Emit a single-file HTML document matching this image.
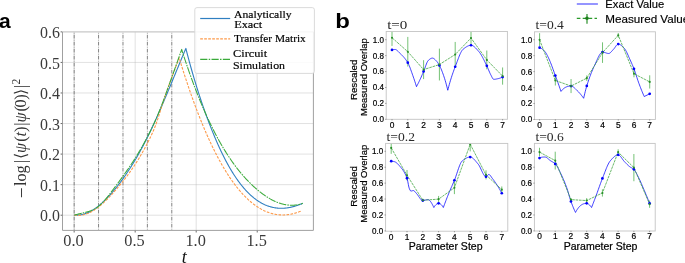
<!DOCTYPE html>
<html><head><meta charset="utf-8"><style>
html,body{margin:0;padding:0;background:#fff;}
body{width:685px;height:263px;overflow:hidden;}
svg{display:block;will-change:transform;}
</style></head><body>
<svg width="685" height="263" viewBox="0 0 685 263">
<rect width="685" height="263" fill="#fff"/>
<defs><clipPath id="ca"><rect x="62.5" y="30.8" width="250.9" height="199.6"/></clipPath></defs>
<path d="M62.5,215.21H313.4 M62.5,184.65H313.4 M62.5,154.10H313.4 M62.5,123.54H313.4 M62.5,92.98H313.4 M62.5,62.43H313.4" stroke="#b0b0b0" stroke-opacity="0.38" stroke-width="1" fill="none"/>
<path d="M74.15,31.8V230.4 M135.18,31.8V230.4 M196.20,31.8V230.4 M257.23,31.8V230.4" stroke="#b0b0b0" stroke-opacity="0.38" stroke-width="1" fill="none"/>
<path d="M74.15,31.8V230.4 M98.56,31.8V230.4 M122.97,31.8V230.4 M147.38,31.8V230.4 M171.79,31.8V230.4" stroke="#6e6e6e" stroke-width="0.85" stroke-dasharray="3.7,1.25,0.8,1.25" stroke-dashoffset="4.0" fill="none"/>
<g clip-path="url(#ca)" fill="none" stroke-linejoin="round">
<path d="M74.40,215.20 L74.90,215.03 L75.40,215.07 L75.90,215.10 L76.40,215.12 L76.90,215.12 L77.40,215.11 L77.90,215.10 L78.40,215.07 L78.90,215.03 L79.40,214.99 L79.90,214.93 L80.40,214.86 L80.90,214.78 L81.40,214.69 L81.90,214.59 L82.40,214.48 L82.90,214.36 L83.40,214.23 L83.90,214.09 L84.40,213.94 L84.90,213.78 L85.40,213.61 L85.90,213.43 L86.40,213.25 L86.90,213.05 L87.40,212.84 L87.90,212.63 L88.40,212.40 L88.90,212.17 L89.40,211.92 L89.90,211.67 L90.40,211.41 L90.90,211.14 L91.40,210.86 L91.90,210.57 L92.40,210.28 L92.90,209.97 L93.40,209.66 L93.90,209.34 L94.40,209.01 L94.90,208.67 L95.40,208.33 L95.90,207.97 L96.40,207.61 L96.90,207.24 L97.40,206.86 L97.90,206.48 L98.40,206.08 L98.90,205.68 L99.40,205.27 L99.90,204.86 L100.40,204.43 L100.90,204.00 L101.40,203.56 L101.90,203.12 L102.40,202.67 L102.90,202.21 L103.40,201.74 L103.90,201.27 L104.40,200.79 L104.90,200.30 L105.40,199.81 L105.90,199.30 L106.40,198.80 L106.90,198.28 L107.40,197.77 L107.90,197.24 L108.40,196.71 L108.90,196.17 L109.40,195.62 L109.90,195.07 L110.40,194.52 L110.90,193.96 L111.40,193.39 L111.90,192.81 L112.40,192.23 L112.90,191.65 L113.40,191.06 L113.90,190.46 L114.40,189.86 L114.90,189.26 L115.40,188.64 L115.90,188.03 L116.40,187.41 L116.90,186.78 L117.40,186.15 L117.90,185.51 L118.40,184.86 L118.90,184.21 L119.40,183.56 L119.90,182.90 L120.40,182.23 L120.90,181.56 L121.40,180.88 L121.90,180.20 L122.40,179.51 L122.90,178.82 L123.40,178.12 L123.90,177.41 L124.40,176.70 L124.90,175.99 L125.40,175.26 L125.90,174.54 L126.40,173.80 L126.90,173.06 L127.40,172.31 L127.90,171.56 L128.40,170.80 L128.90,170.04 L129.40,169.27 L129.90,168.50 L130.40,167.71 L130.90,166.93 L131.40,166.13 L131.90,165.33 L132.40,164.52 L132.90,163.71 L133.40,162.89 L133.90,162.07 L134.40,161.24 L134.90,160.40 L135.40,159.56 L135.90,158.71 L136.40,157.85 L136.90,156.99 L137.40,156.12 L137.90,155.24 L138.40,154.36 L138.90,153.47 L139.40,152.58 L139.90,151.68 L140.40,150.77 L140.90,149.85 L141.40,148.93 L141.90,148.00 L142.40,147.07 L142.90,146.13 L143.40,145.18 L143.90,144.23 L144.40,143.27 L144.90,142.30 L145.40,141.32 L145.90,140.34 L146.40,139.35 L146.90,138.36 L147.40,137.35 L147.90,136.35 L148.40,135.33 L148.90,134.31 L149.40,133.28 L149.90,132.24 L150.40,131.20 L150.90,130.15 L151.40,129.09 L151.90,128.03 L152.40,126.96 L152.90,125.89 L153.40,124.81 L153.90,123.72 L154.40,122.63 L154.90,121.53 L155.40,120.43 L155.90,119.32 L156.40,118.21 L156.90,117.09 L157.40,115.97 L157.90,114.85 L158.40,113.72 L158.90,112.58 L159.40,111.44 L159.90,110.30 L160.40,109.15 L160.90,108.00 L161.40,106.84 L161.90,105.68 L162.40,104.52 L162.90,103.35 L163.40,102.18 L163.90,101.01 L164.40,99.84 L164.90,98.66 L165.40,97.48 L165.90,96.29 L166.40,95.11 L166.90,93.92 L167.40,92.73 L167.90,91.54 L168.40,90.34 L168.90,89.15 L169.40,87.95 L169.90,86.75 L170.40,85.55 L170.90,84.35 L171.40,83.14 L171.90,81.94 L172.40,80.73 L172.90,79.53 L173.40,78.32 L173.90,77.11 L174.40,75.90 L174.90,74.69 L175.40,73.49 L175.90,72.28 L176.40,71.07 L176.90,69.86 L177.40,68.65 L177.90,67.45 L178.40,66.24 L178.90,65.03 L179.40,63.83 L179.90,62.63 L180.40,61.42 L180.90,60.22 L181.40,59.02 L181.90,57.82 L182.40,56.63 L182.90,55.43 L183.40,54.24 L183.90,53.05 L184.40,51.86 L184.90,50.67 L185.40,49.49 L185.90,48.40 L186.30,50.19 L186.80,52.12 L187.30,54.04 L187.80,55.94 L188.30,57.82 L188.80,59.68 L189.30,61.53 L189.80,63.36 L190.30,65.18 L190.80,66.98 L191.30,68.76 L191.80,70.52 L192.30,72.27 L192.80,74.01 L193.30,75.72 L193.80,77.43 L194.30,79.11 L194.80,80.79 L195.30,82.44 L195.80,84.09 L196.30,85.71 L196.80,87.33 L197.30,88.93 L197.80,90.51 L198.30,92.09 L198.80,93.64 L199.30,95.19 L199.80,96.72 L200.30,98.24 L200.80,99.75 L201.30,101.24 L201.80,102.72 L202.30,104.18 L202.80,105.64 L203.30,107.08 L203.80,108.51 L204.30,109.93 L204.80,111.34 L205.30,112.73 L205.80,114.12 L206.30,115.49 L206.80,116.85 L207.30,118.20 L207.80,119.54 L208.30,120.87 L208.80,122.19 L209.30,123.49 L209.80,124.79 L210.30,126.08 L210.80,127.35 L211.30,128.62 L211.80,129.88 L212.30,131.12 L212.80,132.36 L213.30,133.58 L213.80,134.79 L214.30,136.00 L214.80,137.19 L215.30,138.37 L215.80,139.54 L216.30,140.70 L216.80,141.85 L217.30,142.99 L217.80,144.12 L218.30,145.24 L218.80,146.35 L219.30,147.44 L219.80,148.53 L220.30,149.60 L220.80,150.66 L221.30,151.72 L221.80,152.76 L222.30,153.79 L222.80,154.80 L223.30,155.81 L223.80,156.81 L224.30,157.79 L224.80,158.77 L225.30,159.73 L225.80,160.68 L226.30,161.62 L226.80,162.55 L227.30,163.47 L227.80,164.38 L228.30,165.28 L228.80,166.17 L229.30,167.05 L229.80,167.91 L230.30,168.77 L230.80,169.61 L231.30,170.45 L231.80,171.27 L232.30,172.09 L232.80,172.89 L233.30,173.68 L233.80,174.47 L234.30,175.24 L234.80,176.00 L235.30,176.76 L235.80,177.50 L236.30,178.23 L236.80,178.95 L237.30,179.67 L237.80,180.37 L238.30,181.06 L238.80,181.75 L239.30,182.42 L239.80,183.08 L240.30,183.74 L240.80,184.38 L241.30,185.01 L241.80,185.64 L242.30,186.25 L242.80,186.86 L243.30,187.46 L243.80,188.04 L244.30,188.62 L244.80,189.19 L245.30,189.75 L245.80,190.30 L246.30,190.84 L246.80,191.37 L247.30,191.89 L247.80,192.40 L248.30,192.90 L248.80,193.40 L249.30,193.88 L249.80,194.36 L250.30,194.83 L250.80,195.29 L251.30,195.74 L251.80,196.18 L252.30,196.61 L252.80,197.03 L253.30,197.45 L253.80,197.86 L254.30,198.25 L254.80,198.64 L255.30,199.02 L255.80,199.40 L256.30,199.76 L256.80,200.12 L257.30,200.46 L257.80,200.80 L258.30,201.13 L258.80,201.46 L259.30,201.77 L259.80,202.08 L260.30,202.38 L260.80,202.67 L261.30,202.95 L261.80,203.23 L262.30,203.49 L262.80,203.75 L263.30,204.01 L263.80,204.25 L264.30,204.49 L264.80,204.71 L265.30,204.94 L265.80,205.15 L266.30,205.36 L266.80,205.55 L267.30,205.75 L267.80,205.93 L268.30,206.11 L268.80,206.28 L269.30,206.44 L269.80,206.59 L270.30,206.74 L270.80,206.88 L271.30,207.02 L271.80,207.14 L272.30,207.26 L272.80,207.38 L273.30,207.48 L273.80,207.58 L274.30,207.67 L274.80,207.76 L275.30,207.84 L275.80,207.91 L276.30,207.98 L276.80,208.04 L277.30,208.09 L277.80,208.14 L278.30,208.18 L278.80,208.21 L279.30,208.24 L279.80,208.26 L280.30,208.28 L280.80,208.29 L281.30,208.29 L281.80,208.28 L282.30,208.28 L282.80,208.26 L283.30,208.24 L283.80,208.21 L284.30,208.18 L284.80,208.14 L285.30,208.10 L285.80,208.04 L286.30,207.99 L286.80,207.93 L287.30,207.86 L287.80,207.79 L288.30,207.71 L288.80,207.62 L289.30,207.54 L289.80,207.44 L290.30,207.34 L290.80,207.24 L291.30,207.13 L291.80,207.01 L292.30,206.89 L292.80,206.76 L293.30,206.63 L293.80,206.50 L294.30,206.36 L294.80,206.21 L295.30,206.06 L295.80,205.90 L296.30,205.74 L296.80,205.58 L297.30,205.41 L297.80,205.23 L298.30,205.06 L298.80,204.87 L299.30,204.68 L299.80,204.49 L300.30,204.29 L300.80,204.09 L301.30,203.89 L301.80,203.68 L302.30,203.46 L302.60,203.20" stroke="#2f7fc1" stroke-width="1.1"/>
<path d="M74.40,215.20 L74.90,215.03 L75.40,215.12 L75.90,215.19 L76.40,215.25 L76.90,215.30 L77.40,215.34 L77.90,215.36 L78.40,215.37 L78.90,215.37 L79.40,215.36 L79.90,215.34 L80.40,215.30 L80.90,215.25 L81.40,215.19 L81.90,215.12 L82.40,215.04 L82.90,214.94 L83.40,214.84 L83.90,214.72 L84.40,214.59 L84.90,214.45 L85.40,214.30 L85.90,214.14 L86.40,213.97 L86.90,213.79 L87.40,213.60 L87.90,213.40 L88.40,213.19 L88.90,212.97 L89.40,212.74 L89.90,212.50 L90.40,212.25 L90.90,211.99 L91.40,211.72 L91.90,211.45 L92.40,211.16 L92.90,210.86 L93.40,210.56 L93.90,210.25 L94.40,209.93 L94.90,209.60 L95.40,209.26 L95.90,208.91 L96.40,208.56 L96.90,208.20 L97.40,207.83 L97.90,207.45 L98.40,207.07 L98.90,206.68 L99.40,206.28 L99.90,205.87 L100.40,205.46 L100.90,205.03 L101.40,204.61 L101.90,204.17 L102.40,203.73 L102.90,203.28 L103.40,202.83 L103.90,202.37 L104.40,201.91 L104.90,201.43 L105.40,200.96 L105.90,200.47 L106.40,199.98 L106.90,199.49 L107.40,198.99 L107.90,198.48 L108.40,197.97 L108.90,197.46 L109.40,196.94 L109.90,196.41 L110.40,195.88 L110.90,195.35 L111.40,194.81 L111.90,194.27 L112.40,193.72 L112.90,193.17 L113.40,192.61 L113.90,192.05 L114.40,191.49 L114.90,190.92 L115.40,190.35 L115.90,189.78 L116.40,189.21 L116.90,188.63 L117.40,188.04 L117.90,187.46 L118.40,186.87 L118.90,186.27 L119.40,185.68 L119.90,185.07 L120.40,184.47 L120.90,183.86 L121.40,183.25 L121.90,182.63 L122.40,182.01 L122.90,181.38 L123.40,180.75 L123.90,180.12 L124.40,179.48 L124.90,178.83 L125.40,178.18 L125.90,177.53 L126.40,176.87 L126.90,176.20 L127.40,175.53 L127.90,174.86 L128.40,174.18 L128.90,173.49 L129.40,172.80 L129.90,172.10 L130.40,171.39 L130.90,170.68 L131.40,169.97 L131.90,169.24 L132.40,168.52 L132.90,167.78 L133.40,167.04 L133.90,166.29 L134.40,165.54 L134.90,164.78 L135.40,164.01 L135.90,163.23 L136.40,162.45 L136.90,161.66 L137.40,160.86 L137.90,160.06 L138.40,159.25 L138.90,158.43 L139.40,157.60 L139.90,156.77 L140.40,155.93 L140.90,155.08 L141.40,154.22 L141.90,153.35 L142.40,152.48 L142.90,151.60 L143.40,150.71 L143.90,149.81 L144.40,148.90 L144.90,147.98 L145.40,147.05 L145.90,146.12 L146.40,145.18 L146.90,144.22 L147.40,143.26 L147.90,142.29 L148.40,141.31 L148.90,140.32 L149.40,139.32 L149.90,138.31 L150.40,137.29 L150.90,136.24 L151.40,135.18 L151.90,134.10 L152.40,133.00 L152.90,131.86 L153.40,130.70 L153.90,129.51 L154.40,128.29 L154.90,127.03 L155.40,125.73 L155.90,124.39 L156.40,123.00 L156.90,121.57 L157.40,120.10 L157.90,118.60 L158.40,117.06 L158.90,115.50 L159.40,113.92 L159.90,112.33 L160.40,110.73 L160.90,109.13 L161.40,107.54 L161.90,105.95 L162.40,104.39 L162.90,102.83 L163.40,101.30 L163.90,99.78 L164.40,98.28 L164.90,96.79 L165.40,95.31 L165.90,93.85 L166.40,92.40 L166.90,90.96 L167.40,89.54 L167.90,88.12 L168.40,86.72 L168.90,85.33 L169.40,83.94 L169.90,82.57 L170.40,81.20 L170.90,79.84 L171.40,78.48 L171.90,77.14 L172.40,75.80 L172.90,74.46 L173.40,73.13 L173.90,71.80 L174.40,70.48 L174.90,69.16 L175.40,67.84 L175.90,66.52 L176.40,65.21 L176.90,63.89 L177.40,62.58 L177.90,61.26 L178.40,59.94 L178.90,58.62 L179.20,57.80 L179.70,59.67 L180.20,61.31 L180.70,62.93 L181.20,64.55 L181.70,66.15 L182.20,67.75 L182.70,69.34 L183.20,70.91 L183.70,72.48 L184.20,74.04 L184.70,75.58 L185.20,77.12 L185.70,78.65 L186.20,80.17 L186.70,81.67 L187.20,83.17 L187.70,84.66 L188.20,86.14 L188.70,87.61 L189.20,89.07 L189.70,90.52 L190.20,91.97 L190.70,93.40 L191.20,94.82 L191.70,96.23 L192.20,97.64 L192.70,99.03 L193.20,100.42 L193.70,101.79 L194.20,103.16 L194.70,104.51 L195.20,105.86 L195.70,107.20 L196.20,108.53 L196.70,109.85 L197.20,111.16 L197.70,112.46 L198.20,113.75 L198.70,115.03 L199.20,116.31 L199.70,117.57 L200.20,118.82 L200.70,120.07 L201.20,121.31 L201.70,122.53 L202.20,123.75 L202.70,124.96 L203.20,126.16 L203.70,127.35 L204.20,128.54 L204.70,129.71 L205.20,130.88 L205.70,132.03 L206.20,133.18 L206.70,134.32 L207.20,135.44 L207.70,136.56 L208.20,137.68 L208.70,138.78 L209.20,139.87 L209.70,140.96 L210.20,142.03 L210.70,143.10 L211.20,144.16 L211.70,145.21 L212.20,146.25 L212.70,147.28 L213.20,148.31 L213.70,149.32 L214.20,150.33 L214.70,151.33 L215.20,152.31 L215.70,153.30 L216.20,154.27 L216.70,155.23 L217.20,156.19 L217.70,157.13 L218.20,158.07 L218.70,159.00 L219.20,159.92 L219.70,160.84 L220.20,161.74 L220.70,162.64 L221.20,163.52 L221.70,164.40 L222.20,165.28 L222.70,166.14 L223.20,166.99 L223.70,167.84 L224.20,168.68 L224.70,169.51 L225.20,170.33 L225.70,171.14 L226.20,171.95 L226.70,172.74 L227.20,173.53 L227.70,174.31 L228.20,175.09 L228.70,175.85 L229.20,176.61 L229.70,177.36 L230.20,178.10 L230.70,178.83 L231.20,179.56 L231.70,180.27 L232.20,180.98 L232.70,181.68 L233.20,182.37 L233.70,183.06 L234.20,183.74 L234.70,184.41 L235.20,185.07 L235.70,185.72 L236.20,186.37 L236.70,187.01 L237.20,187.64 L237.70,188.26 L238.20,188.87 L238.70,189.48 L239.20,190.08 L239.70,190.67 L240.20,191.26 L240.70,191.83 L241.20,192.40 L241.70,192.96 L242.20,193.52 L242.70,194.06 L243.20,194.60 L243.70,195.13 L244.20,195.66 L244.70,196.17 L245.20,196.68 L245.70,197.18 L246.20,197.68 L246.70,198.16 L247.20,198.64 L247.70,199.11 L248.20,199.58 L248.70,200.04 L249.20,200.49 L249.70,200.93 L250.20,201.36 L250.70,201.79 L251.20,202.21 L251.70,202.63 L252.20,203.03 L252.70,203.43 L253.20,203.82 L253.70,204.21 L254.20,204.59 L254.70,204.96 L255.20,205.32 L255.70,205.68 L256.20,206.03 L256.70,206.37 L257.20,206.70 L257.70,207.03 L258.20,207.35 L258.70,207.67 L259.20,207.98 L259.70,208.28 L260.20,208.57 L260.70,208.86 L261.20,209.14 L261.70,209.41 L262.20,209.68 L262.70,209.94 L263.20,210.19 L263.70,210.44 L264.20,210.67 L264.70,210.91 L265.20,211.13 L265.70,211.35 L266.20,211.57 L266.70,211.77 L267.20,211.97 L267.70,212.16 L268.20,212.35 L268.70,212.53 L269.20,212.70 L269.70,212.87 L270.20,213.03 L270.70,213.18 L271.20,213.33 L271.70,213.47 L272.20,213.60 L272.70,213.73 L273.20,213.85 L273.70,213.97 L274.20,214.07 L274.70,214.18 L275.20,214.27 L275.70,214.36 L276.20,214.44 L276.70,214.52 L277.20,214.59 L277.70,214.66 L278.20,214.71 L278.70,214.77 L279.20,214.81 L279.70,214.85 L280.20,214.89 L280.70,214.91 L281.20,214.93 L281.70,214.95 L282.20,214.96 L282.70,214.96 L283.20,214.96 L283.70,214.95 L284.20,214.93 L284.70,214.91 L285.20,214.89 L285.70,214.85 L286.20,214.81 L286.70,214.77 L287.20,214.72 L287.70,214.66 L288.20,214.60 L288.70,214.53 L289.20,214.46 L289.70,214.38 L290.20,214.29 L290.70,214.20 L291.20,214.11 L291.70,214.00 L292.20,213.89 L292.70,213.78 L293.20,213.66 L293.70,213.54 L294.20,213.40 L294.70,213.27 L295.20,213.13 L295.70,212.98 L296.20,212.82 L296.70,212.67 L297.20,212.50 L297.70,212.33 L298.20,212.16 L298.70,211.98 L299.20,211.79 L299.70,211.60 L300.20,211.40 L300.70,211.20 L300.80,211.00" stroke="#fd9a4a" stroke-width="1.1" stroke-dasharray="2.7,1.3"/>
<path d="M74.40,215.20 L74.90,215.03 L75.40,214.87 L75.90,214.71 L76.40,214.56 L76.90,214.41 L77.40,214.27 L77.90,214.14 L78.40,214.01 L78.90,213.88 L79.40,213.76 L79.90,213.64 L80.40,213.53 L80.90,213.41 L81.40,213.30 L81.90,213.19 L82.40,213.08 L82.90,212.96 L83.40,212.85 L83.90,212.74 L84.40,212.62 L84.90,212.50 L85.40,212.38 L85.90,212.26 L86.40,212.13 L86.90,212.00 L87.40,211.86 L87.90,211.71 L88.40,211.56 L88.90,211.41 L89.40,211.24 L89.90,211.07 L90.40,210.89 L90.90,210.70 L91.40,210.50 L91.90,210.29 L92.40,210.07 L92.90,209.84 L93.40,209.60 L93.90,209.35 L94.40,209.08 L94.90,208.80 L95.40,208.50 L95.90,208.20 L96.40,207.87 L96.90,207.53 L97.40,207.18 L97.90,206.81 L98.40,206.42 L98.90,206.01 L99.40,205.59 L99.90,205.15 L100.40,204.70 L100.90,204.23 L101.40,203.74 L101.90,203.24 L102.40,202.73 L102.90,202.21 L103.40,201.67 L103.90,201.12 L104.40,200.56 L104.90,199.98 L105.40,199.40 L105.90,198.81 L106.40,198.21 L106.90,197.60 L107.40,196.98 L107.90,196.36 L108.40,195.73 L108.90,195.09 L109.40,194.45 L109.90,193.80 L110.40,193.15 L110.90,192.49 L111.40,191.83 L111.90,191.17 L112.40,190.51 L112.90,189.84 L113.40,189.17 L113.90,188.51 L114.40,187.84 L114.90,187.17 L115.40,186.50 L115.90,185.83 L116.40,185.16 L116.90,184.49 L117.40,183.81 L117.90,183.14 L118.40,182.46 L118.90,181.78 L119.40,181.11 L119.90,180.42 L120.40,179.74 L120.90,179.06 L121.40,178.37 L121.90,177.68 L122.40,176.99 L122.90,176.29 L123.40,175.60 L123.90,174.90 L124.40,174.19 L124.90,173.49 L125.40,172.78 L125.90,172.07 L126.40,171.35 L126.90,170.64 L127.40,169.91 L127.90,169.19 L128.40,168.46 L128.90,167.73 L129.40,166.99 L129.90,166.25 L130.40,165.51 L130.90,164.76 L131.40,164.00 L131.90,163.25 L132.40,162.48 L132.90,161.72 L133.40,160.95 L133.90,160.17 L134.40,159.39 L134.90,158.60 L135.40,157.81 L135.90,157.01 L136.40,156.21 L136.90,155.40 L137.40,154.58 L137.90,153.76 L138.40,152.94 L138.90,152.11 L139.40,151.27 L139.90,150.42 L140.40,149.57 L140.90,148.72 L141.40,147.85 L141.90,146.98 L142.40,146.10 L142.90,145.22 L143.40,144.33 L143.90,143.43 L144.40,142.52 L144.90,141.61 L145.40,140.69 L145.90,139.76 L146.40,138.83 L146.90,137.88 L147.40,136.93 L147.90,135.97 L148.40,135.00 L148.90,134.03 L149.40,133.04 L149.90,132.05 L150.40,131.04 L150.90,130.03 L151.40,129.01 L151.90,127.97 L152.40,126.93 L152.90,125.88 L153.40,124.81 L153.90,123.73 L154.40,122.64 L154.90,121.54 L155.40,120.42 L155.90,119.29 L156.40,118.15 L156.90,117.00 L157.40,115.83 L157.90,114.64 L158.40,113.44 L158.90,112.23 L159.40,111.00 L159.90,109.75 L160.40,108.49 L160.90,107.21 L161.40,105.92 L161.90,104.61 L162.40,103.28 L162.90,101.94 L163.40,100.58 L163.90,99.22 L164.40,97.85 L164.90,96.47 L165.40,95.09 L165.90,93.70 L166.40,92.31 L166.90,90.92 L167.40,89.53 L167.90,88.14 L168.40,86.75 L168.90,85.35 L169.40,83.96 L169.90,82.57 L170.40,81.17 L170.90,79.77 L171.40,78.38 L171.90,76.98 L172.40,75.58 L172.90,74.18 L173.40,72.78 L173.90,71.38 L174.40,69.98 L174.90,68.58 L175.40,67.17 L175.90,65.77 L176.40,64.37 L176.90,62.96 L177.40,61.56 L177.90,60.15 L178.40,58.75 L178.90,57.34 L179.40,55.94 L179.90,54.53 L180.40,53.13 L180.90,51.72 L181.40,50.31 L181.70,49.40 L182.20,51.17 L182.70,52.73 L183.20,54.28 L183.70,55.82 L184.20,57.34 L184.70,58.86 L185.20,60.37 L185.70,61.86 L186.20,63.35 L186.70,64.82 L187.20,66.29 L187.70,67.75 L188.20,69.19 L188.70,70.63 L189.20,72.06 L189.70,73.47 L190.20,74.88 L190.70,76.27 L191.20,77.66 L191.70,79.04 L192.20,80.41 L192.70,81.76 L193.20,83.11 L193.70,84.45 L194.20,85.78 L194.70,87.10 L195.20,88.41 L195.70,89.71 L196.20,91.00 L196.70,92.28 L197.20,93.56 L197.70,94.82 L198.20,96.07 L198.70,97.32 L199.20,98.55 L199.70,99.78 L200.20,101.00 L200.70,102.21 L201.20,103.41 L201.70,104.60 L202.20,105.78 L202.70,106.95 L203.20,108.11 L203.70,109.27 L204.20,110.41 L204.70,111.55 L205.20,112.68 L205.70,113.80 L206.20,114.91 L206.70,116.01 L207.20,117.11 L207.70,118.19 L208.20,119.27 L208.70,120.34 L209.20,121.40 L209.70,122.45 L210.20,123.49 L210.70,124.53 L211.20,125.56 L211.70,126.57 L212.20,127.58 L212.70,128.59 L213.20,129.58 L213.70,130.57 L214.20,131.54 L214.70,132.51 L215.20,133.48 L215.70,134.43 L216.20,135.38 L216.70,136.31 L217.20,137.25 L217.70,138.17 L218.20,139.08 L218.70,139.99 L219.20,140.89 L219.70,141.78 L220.20,142.67 L220.70,143.54 L221.20,144.41 L221.70,145.27 L222.20,146.13 L222.70,146.97 L223.20,147.81 L223.70,148.64 L224.20,149.47 L224.70,150.29 L225.20,151.10 L225.70,151.90 L226.20,152.70 L226.70,153.49 L227.20,154.27 L227.70,155.04 L228.20,155.81 L228.70,156.57 L229.20,157.32 L229.70,158.07 L230.20,158.81 L230.70,159.54 L231.20,160.27 L231.70,160.99 L232.20,161.70 L232.70,162.41 L233.20,163.11 L233.70,163.80 L234.20,164.49 L234.70,165.17 L235.20,165.84 L235.70,166.51 L236.20,167.17 L236.70,167.82 L237.20,168.47 L237.70,169.11 L238.20,169.75 L238.70,170.38 L239.20,171.00 L239.70,171.62 L240.20,172.23 L240.70,172.83 L241.20,173.43 L241.70,174.02 L242.20,174.61 L242.70,175.19 L243.20,175.76 L243.70,176.33 L244.20,176.90 L244.70,177.45 L245.20,178.01 L245.70,178.55 L246.20,179.09 L246.70,179.63 L247.20,180.16 L247.70,180.68 L248.20,181.20 L248.70,181.71 L249.20,182.22 L249.70,182.72 L250.20,183.21 L250.70,183.70 L251.20,184.19 L251.70,184.67 L252.20,185.15 L252.70,185.62 L253.20,186.08 L253.70,186.54 L254.20,187.00 L254.70,187.45 L255.20,187.89 L255.70,188.33 L256.20,188.76 L256.70,189.19 L257.20,189.62 L257.70,190.04 L258.20,190.45 L258.70,190.87 L259.20,191.27 L259.70,191.67 L260.20,192.07 L260.70,192.46 L261.20,192.84 L261.70,193.22 L262.20,193.60 L262.70,193.97 L263.20,194.33 L263.70,194.69 L264.20,195.05 L264.70,195.40 L265.20,195.74 L265.70,196.08 L266.20,196.41 L266.70,196.74 L267.20,197.06 L267.70,197.38 L268.20,197.69 L268.70,197.99 L269.20,198.29 L269.70,198.59 L270.20,198.87 L270.70,199.16 L271.20,199.43 L271.70,199.70 L272.20,199.97 L272.70,200.22 L273.20,200.48 L273.70,200.72 L274.20,200.96 L274.70,201.20 L275.20,201.43 L275.70,201.65 L276.20,201.86 L276.70,202.07 L277.20,202.28 L277.70,202.47 L278.20,202.66 L278.70,202.85 L279.20,203.03 L279.70,203.20 L280.20,203.36 L280.70,203.52 L281.20,203.67 L281.70,203.82 L282.20,203.96 L282.70,204.09 L283.20,204.21 L283.70,204.33 L284.20,204.44 L284.70,204.55 L285.20,204.64 L285.70,204.73 L286.20,204.82 L286.70,204.89 L287.20,204.96 L287.70,205.03 L288.20,205.08 L288.70,205.13 L289.20,205.17 L289.70,205.20 L290.20,205.23 L290.70,205.25 L291.20,205.26 L291.70,205.27 L292.20,205.26 L292.70,205.25 L293.20,205.23 L293.70,205.21 L294.20,205.18 L294.70,205.14 L295.20,205.09 L295.70,205.03 L296.20,204.97 L296.70,204.90 L297.20,204.82 L297.70,204.73 L298.20,204.63 L298.70,204.53 L299.20,204.42 L299.70,204.30 L300.20,204.17 L300.70,204.04 L301.20,203.90 L301.70,203.74 L302.20,203.59 L302.60,203.10" stroke="#3aaa3a" stroke-width="1.05" stroke-dasharray="7.6,1.0,1.6,1.0"/>
</g>
<path d="M62.5,31.8H313.4" stroke="#c8c8c8" stroke-width="1.3" fill="none"/>
<path d="M62.5,31.8V230.4H313.4V31.8" stroke="#a0a0a0" stroke-width="1" fill="none"/>
<path d="M62.2,215.21h-1.6 M62.2,184.65h-1.6 M62.2,154.10h-1.6 M62.2,123.54h-1.6 M62.2,92.98h-1.6 M62.2,62.43h-1.6 M62.2,31.87h-1.6 M74.15,230.7v1.8 M135.18,230.7v1.8 M196.20,230.7v1.8 M257.23,230.7v1.8" stroke="#444" stroke-width="0.8" fill="none"/>
<g font-family="Liberation Serif" font-size="16.3" fill="#3a3a3a">
<text x="60.0" y="221.41" text-anchor="end" textLength="19.9" lengthAdjust="spacingAndGlyphs">0.0</text>
<text x="60.0" y="190.85" text-anchor="end" textLength="19.9" lengthAdjust="spacingAndGlyphs">0.1</text>
<text x="60.0" y="160.30" text-anchor="end" textLength="19.9" lengthAdjust="spacingAndGlyphs">0.2</text>
<text x="60.0" y="129.74" text-anchor="end" textLength="19.9" lengthAdjust="spacingAndGlyphs">0.3</text>
<text x="60.0" y="99.18" text-anchor="end" textLength="19.9" lengthAdjust="spacingAndGlyphs">0.4</text>
<text x="60.0" y="68.63" text-anchor="end" textLength="19.9" lengthAdjust="spacingAndGlyphs">0.5</text>
<text x="60.0" y="38.07" text-anchor="end" textLength="19.9" lengthAdjust="spacingAndGlyphs">0.6</text>
<text x="73.55" y="245.9" text-anchor="middle" textLength="20.4" lengthAdjust="spacingAndGlyphs">0.0</text>
<text x="134.58" y="245.9" text-anchor="middle" textLength="20.4" lengthAdjust="spacingAndGlyphs">0.5</text>
<text x="195.60" y="245.9" text-anchor="middle" textLength="20.4" lengthAdjust="spacingAndGlyphs">1.0</text>
<text x="256.62" y="245.9" text-anchor="middle" textLength="20.4" lengthAdjust="spacingAndGlyphs">1.5</text>
</g>
<text x="184.3" y="263.2" font-family="Liberation Serif" font-style="italic" font-size="18" text-anchor="middle" fill="#111">t</text>
<g transform="translate(26.2,197.5) rotate(-90)" font-family="Liberation Serif" fill="#333" text-anchor="middle">
<text x="4.80" y="2.00" font-size="19.5">−</text>
<text x="21.85" y="0.00" font-size="16.3">log</text>
<text x="36.00" y="0.00" font-size="16.3">|</text>
<text x="42.00" y="0.00" font-size="16.3">⟨</text>
<text x="49.60" y="0.00" font-size="16.3" font-style="italic">ψ</text>
<text x="58.40" y="0.00" font-size="16.3">(</text>
<text x="63.30" y="0.00" font-size="16.3" font-style="italic">t</text>
<text x="68.20" y="0.00" font-size="16.3">)</text>
<text x="73.50" y="0.00" font-size="16.3">|</text>
<text x="80.00" y="0.00" font-size="16.3" font-style="italic">ψ</text>
<text x="88.70" y="0.00" font-size="16.3">(</text>
<text x="94.10" y="0.00" font-size="16.3">0</text>
<text x="100.40" y="0.00" font-size="16.3">)</text>
<text x="105.50" y="0.00" font-size="16.3">⟩</text>
<text x="111.20" y="0.00" font-size="16.3">|</text>
<text x="115.90" y="-6.30" font-size="11.5">2</text>
</g>
<rect x="194.8" y="7.6" width="119.6" height="65.8" rx="2.2" fill="#fff" fill-opacity="0.85" stroke="#d6d6d6" stroke-width="0.9"/>
<path d="M200.2,18.5H230.2" stroke="#2f7fc1" stroke-width="1.2"/>
<path d="M200.2,38.9H230.2" stroke="#fd9a4a" stroke-width="1.2" stroke-dasharray="2.7,1.3"/>
<path d="M200.2,59.4H230.2" stroke="#3aaa3a" stroke-width="1.1" stroke-dasharray="7.2,1.3,1.5,1.3"/>
<g font-family="Liberation Serif" font-size="11.4" fill="#000" stroke="#000" stroke-width="0.18">
<text x="234.0" y="17.9" textLength="57.6" lengthAdjust="spacingAndGlyphs">Analytically</text>
<text x="234.2" y="27.6" textLength="28.0" lengthAdjust="spacingAndGlyphs">Exact</text>
<text x="234.0" y="42.0" textLength="71.8" lengthAdjust="spacingAndGlyphs">Transfer Matrix</text>
<text x="233.0" y="56.9" textLength="34.2" lengthAdjust="spacingAndGlyphs">Circuit</text>
<text x="233.0" y="68.9" textLength="52.0" lengthAdjust="spacingAndGlyphs">Simulation</text>
</g>
<text x="-1" y="27.8" font-family="Liberation Sans" font-weight="bold" font-size="21" fill="#000">a</text>
<text transform="translate(335.3,28.4) scale(1.14,0.97)" font-family="Liberation Sans" font-weight="bold" font-size="21" fill="#000">b</text>
<defs>
<clipPath id="cTL"><rect x="386.2" y="31.5" width="121.2" height="87.8"/></clipPath>
<clipPath id="cTR"><rect x="534.5" y="31.8" width="120.9" height="87.7"/></clipPath>
<clipPath id="cBL"><rect x="385.6" y="143.4" width="122.2" height="87.8"/></clipPath>
<clipPath id="cBR"><rect x="534.4" y="143.4" width="120.8" height="87.6"/></clipPath>
</defs>
<g clip-path="url(#cTL)">
<path d="M392.00,29.51V45.91 M407.80,36.91V66.53 M423.60,60.16V79.10 M439.40,48.62V80.46 M455.20,41.93V67.08 M471.00,31.66V44.40 M486.80,50.53V69.31 M502.60,67.48V84.67" stroke="#3aa83a" stroke-opacity="0.7" stroke-width="1.0" fill="none"/>
<path d="M392.00,49.89 L392.52,49.72 L393.04,49.61 L393.56,49.54 L394.08,49.51 L394.61,49.49 L395.13,49.49 L395.65,49.56 L396.17,49.77 L396.69,50.10 L397.21,50.51 L397.73,51.00 L398.25,51.53 L398.77,52.09 L399.29,52.63 L399.82,53.15 L400.34,53.64 L400.86,54.14 L401.38,54.64 L401.90,55.16 L402.42,55.68 L402.94,56.23 L403.46,56.80 L403.98,57.39 L404.51,58.01 L405.03,58.65 L405.55,59.33 L406.07,60.04 L406.59,60.80 L407.11,61.59 L407.63,62.42 L408.15,63.33 L408.67,64.39 L409.20,65.58 L409.72,66.87 L410.24,68.25 L410.76,69.69 L411.28,71.16 L411.80,72.64 L412.32,74.12 L412.84,75.57 L413.36,77.05 L413.88,78.57 L414.41,80.13 L414.93,81.72 L415.45,83.34 L415.97,84.99 L416.49,86.66 L417.01,85.68 L417.53,84.68 L418.05,83.65 L418.58,82.60 L419.10,81.54 L419.62,80.45 L420.14,79.35 L420.66,78.22 L421.18,77.07 L421.70,75.88 L422.23,74.67 L422.75,73.45 L423.27,72.23 L423.79,71.01 L424.31,69.68 L424.83,68.26 L425.35,66.79 L425.88,65.34 L426.40,63.97 L426.92,62.72 L427.44,61.65 L427.96,60.82 L428.48,60.27 L429.00,59.82 L429.52,59.39 L430.05,59.01 L430.57,58.68 L431.09,58.41 L431.61,58.21 L432.13,58.11 L432.65,58.10 L433.17,58.24 L433.70,58.51 L434.22,58.88 L434.74,59.33 L435.26,59.82 L435.78,60.34 L436.30,60.86 L436.82,61.43 L437.35,62.09 L437.87,62.84 L438.39,63.66 L438.91,64.54 L439.43,65.47 L439.95,66.46 L440.47,67.54 L441.00,68.71 L441.52,69.95 L442.04,71.26 L442.56,72.63 L443.08,74.06 L443.60,75.54 L444.12,77.07 L444.65,78.66 L445.17,80.37 L445.69,82.19 L446.21,84.09 L446.73,86.07 L447.25,88.13 L447.77,90.25 L448.30,88.24 L448.82,86.28 L449.34,84.37 L449.86,82.52 L450.38,80.73 L450.91,79.00 L451.43,77.35 L451.95,75.74 L452.47,74.18 L453.00,72.67 L453.52,71.21 L454.04,69.78 L454.56,68.40 L455.08,67.06 L455.61,65.73 L456.13,64.35 L456.65,62.96 L457.17,61.54 L457.69,60.13 L458.22,58.74 L458.74,57.37 L459.26,56.06 L459.78,54.80 L460.31,53.63 L460.83,52.54 L461.35,51.56 L461.87,50.70 L462.39,49.98 L462.92,49.41 L463.44,48.98 L463.96,48.56 L464.48,48.16 L465.01,47.77 L465.53,47.40 L466.05,47.05 L466.57,46.73 L467.09,46.43 L467.62,46.16 L468.14,45.92 L468.66,45.71 L469.18,45.54 L469.70,45.41 L470.23,45.32 L470.75,45.28 L471.27,45.28 L471.79,45.37 L472.32,45.54 L472.84,45.78 L473.36,46.09 L473.88,46.45 L474.40,46.87 L474.93,47.34 L475.45,47.84 L475.97,48.37 L476.49,48.93 L477.01,49.51 L477.54,50.10 L478.06,50.69 L478.58,51.28 L479.10,51.87 L479.63,52.52 L480.15,53.24 L480.67,54.02 L481.19,54.85 L481.71,55.74 L482.24,56.68 L482.76,57.65 L483.28,58.65 L483.80,59.69 L484.32,60.74 L484.85,61.80 L485.37,62.88 L485.89,63.95 L486.41,65.02 L486.94,66.09 L487.46,67.23 L487.98,68.45 L488.50,69.71 L489.02,70.97 L489.55,72.21 L490.07,73.37 L490.59,74.43 L491.11,75.42 L491.63,76.49 L492.16,77.54 L492.68,78.44 L493.20,79.08 L493.72,79.34 L494.25,79.33 L494.77,79.28 L495.29,79.22 L495.81,79.13 L496.33,79.03 L496.86,78.92 L497.38,78.81 L497.90,78.70 L498.42,78.58 L498.94,78.44 L499.47,78.29 L499.99,78.12 L500.51,77.94 L501.03,77.75 L501.56,77.55 L502.08,77.33 L502.60,77.11" stroke="#0000ff" stroke-width="0.75" fill="none" stroke-linejoin="round"/>
<path d="M392.00,37.71 L407.80,51.72 L423.60,69.63 L439.40,64.54 L455.20,54.51 L471.00,38.03 L486.80,59.92 L502.60,76.08" stroke="#38a038" stroke-width="0.75" stroke-dasharray="2.6,0.8" fill="none"/>
<circle cx="392.00" cy="49.89" r="1.35" fill="#0000ff"/>
<circle cx="392.00" cy="37.71" r="1.05" fill="#2a8f2a"/>
<circle cx="407.80" cy="62.70" r="1.35" fill="#0000ff"/>
<circle cx="407.80" cy="51.72" r="1.05" fill="#2a8f2a"/>
<circle cx="423.60" cy="71.46" r="1.35" fill="#0000ff"/>
<circle cx="423.60" cy="69.63" r="1.05" fill="#2a8f2a"/>
<circle cx="439.40" cy="65.41" r="1.35" fill="#0000ff"/>
<circle cx="439.40" cy="64.54" r="1.05" fill="#2a8f2a"/>
<circle cx="455.20" cy="66.76" r="1.35" fill="#0000ff"/>
<circle cx="455.20" cy="54.51" r="1.05" fill="#2a8f2a"/>
<circle cx="471.00" cy="45.27" r="1.35" fill="#0000ff"/>
<circle cx="471.00" cy="38.03" r="1.05" fill="#2a8f2a"/>
<circle cx="486.80" cy="65.81" r="1.35" fill="#0000ff"/>
<circle cx="486.80" cy="59.92" r="1.05" fill="#2a8f2a"/>
<circle cx="502.60" cy="77.11" r="1.35" fill="#0000ff"/>
<circle cx="502.60" cy="76.08" r="1.05" fill="#2a8f2a"/>
</g>
<rect x="386.2" y="31.5" width="121.2" height="87.8" fill="none" stroke="#c4c4c4" stroke-width="0.9"/>
<path d="M386.4,119.30h-1.3 M386.4,103.38h-1.3 M386.4,87.46h-1.3 M386.4,71.54h-1.3 M386.4,55.62h-1.3 M386.4,39.70h-1.3 M392.00,119.1v1.3 M407.80,119.1v1.3 M423.60,119.1v1.3 M439.40,119.1v1.3 M455.20,119.1v1.3 M471.00,119.1v1.3 M486.80,119.1v1.3 M502.60,119.1v1.3" stroke="#777" stroke-width="0.7" fill="none"/>
<g font-family="Liberation Sans" font-size="8.4" fill="#000" stroke="#000" stroke-width="0.2">
<text x="383.9" y="122.25" text-anchor="end" textLength="11.2" lengthAdjust="spacingAndGlyphs">0.0</text>
<text x="383.9" y="106.33" text-anchor="end" textLength="11.2" lengthAdjust="spacingAndGlyphs">0.2</text>
<text x="383.9" y="90.41" text-anchor="end" textLength="11.2" lengthAdjust="spacingAndGlyphs">0.4</text>
<text x="383.9" y="74.49" text-anchor="end" textLength="11.2" lengthAdjust="spacingAndGlyphs">0.6</text>
<text x="383.9" y="58.57" text-anchor="end" textLength="11.2" lengthAdjust="spacingAndGlyphs">0.8</text>
<text x="383.9" y="42.65" text-anchor="end" textLength="11.2" lengthAdjust="spacingAndGlyphs">1.0</text>
<text x="392.00" y="127.6" text-anchor="middle">0</text>
<text x="407.80" y="127.6" text-anchor="middle">1</text>
<text x="423.60" y="127.6" text-anchor="middle">2</text>
<text x="439.40" y="127.6" text-anchor="middle">3</text>
<text x="455.20" y="127.6" text-anchor="middle">4</text>
<text x="471.00" y="127.6" text-anchor="middle">5</text>
<text x="486.80" y="127.6" text-anchor="middle">6</text>
<text x="502.60" y="127.6" text-anchor="middle">7</text>
</g>
<text x="387.2" y="28.8" font-family="Liberation Serif" font-size="12.1" fill="#2a2a2a" textLength="20.2" lengthAdjust="spacingAndGlyphs">t=0</text>
<g clip-path="url(#cTR)">
<path d="M539.60,33.16V46.56 M555.33,75.45V85.51 M571.06,79.04V93.09 M586.79,75.37V80.96 M602.52,42.33V62.92 M618.25,33.00V37.63 M633.98,70.10V77.29 M649.71,75.29V88.54" stroke="#3aa83a" stroke-opacity="0.7" stroke-width="1.0" fill="none"/>
<path d="M539.60,47.68 L540.12,47.80 L540.64,47.99 L541.17,48.26 L541.69,48.60 L542.21,48.99 L542.73,49.44 L543.25,49.92 L543.77,50.44 L544.30,50.97 L544.82,51.53 L545.34,52.14 L545.86,52.88 L546.38,53.74 L546.90,54.70 L547.43,55.72 L547.95,56.78 L548.47,57.86 L548.99,58.95 L549.51,60.12 L550.04,61.35 L550.56,62.63 L551.08,63.96 L551.60,65.33 L552.12,66.73 L552.64,68.15 L553.17,69.58 L553.69,71.03 L554.21,72.47 L554.73,73.90 L555.25,75.32 L555.78,76.73 L556.30,78.15 L556.82,79.59 L557.34,81.03 L557.86,82.48 L558.38,83.95 L558.91,85.42 L559.43,86.90 L559.95,88.40 L560.47,89.90 L560.99,91.41 L561.51,90.76 L562.02,90.16 L562.54,89.61 L563.05,89.11 L563.57,88.66 L564.08,88.25 L564.60,87.89 L565.11,87.56 L565.63,87.28 L566.14,87.03 L566.66,86.81 L567.17,86.63 L567.69,86.47 L568.20,86.35 L568.71,86.25 L569.23,86.17 L569.74,86.12 L570.26,86.08 L570.77,86.07 L571.29,86.07 L571.80,86.17 L572.32,86.37 L572.83,86.64 L573.35,86.99 L573.86,87.40 L574.38,87.85 L574.89,88.34 L575.41,88.85 L575.92,89.37 L576.44,89.89 L576.95,90.39 L577.47,90.88 L577.98,91.37 L578.50,91.89 L579.01,92.43 L579.53,93.00 L580.04,93.59 L580.56,94.20 L581.07,94.84 L581.58,95.49 L582.10,96.16 L582.61,96.85 L583.13,97.55 L583.64,98.27 L584.17,96.04 L584.69,93.83 L585.21,91.70 L585.73,89.65 L586.25,87.73 L586.78,85.95 L587.30,84.28 L587.82,82.65 L588.34,81.07 L588.86,79.53 L589.39,78.03 L589.91,76.58 L590.43,75.16 L590.95,73.79 L591.48,72.46 L592.00,71.18 L592.52,69.93 L593.04,68.72 L593.56,67.55 L594.09,66.42 L594.61,65.33 L595.13,64.24 L595.65,63.10 L596.17,61.93 L596.70,60.75 L597.22,59.57 L597.74,58.42 L598.26,57.31 L598.78,56.25 L599.31,55.28 L599.83,54.40 L600.35,53.64 L600.87,53.00 L601.39,52.52 L601.92,52.20 L602.44,52.07 L602.96,52.09 L603.48,52.16 L604.00,52.28 L604.53,52.43 L605.05,52.60 L605.57,52.78 L606.09,52.96 L606.62,53.13 L607.14,53.29 L607.66,53.40 L608.18,53.48 L608.70,53.50 L609.23,53.40 L609.75,53.15 L610.27,52.77 L610.79,52.29 L611.31,51.74 L611.84,51.15 L612.36,50.55 L612.88,49.96 L613.40,49.40 L613.92,48.85 L614.45,48.19 L614.97,47.45 L615.49,46.69 L616.01,45.94 L616.53,45.26 L617.06,44.70 L617.58,44.29 L618.10,44.10 L618.62,44.11 L619.14,44.23 L619.67,44.42 L620.19,44.69 L620.71,45.02 L621.23,45.41 L621.76,45.84 L622.28,46.31 L622.80,46.81 L623.32,47.32 L623.84,47.85 L624.37,48.40 L624.89,49.07 L625.41,49.87 L625.93,50.77 L626.45,51.76 L626.98,52.82 L627.50,53.94 L628.02,55.11 L628.54,56.30 L629.06,57.50 L629.59,58.70 L630.11,59.87 L630.63,61.01 L631.15,62.14 L631.67,63.30 L632.20,64.49 L632.72,65.70 L633.24,66.96 L633.76,68.27 L634.29,69.64 L634.81,71.10 L635.33,72.63 L635.85,74.22 L636.37,75.84 L636.90,77.47 L637.42,79.07 L637.94,80.64 L638.46,82.14 L638.98,83.56 L639.51,84.96 L640.03,86.33 L640.55,87.69 L641.07,89.02 L641.59,90.33 L642.12,91.62 L642.64,92.88 L643.16,94.12 L643.68,95.33 L644.20,96.52 L649.71,93.80" stroke="#0000ff" stroke-width="0.75" fill="none" stroke-linejoin="round"/>
<path d="M539.60,39.86 L555.33,80.48 L571.06,86.06 L586.79,78.16 L602.52,52.63 L618.25,35.31 L633.98,73.69 L649.71,81.91" stroke="#38a038" stroke-width="0.75" stroke-dasharray="2.6,0.8" fill="none"/>
<circle cx="539.60" cy="47.68" r="1.35" fill="#0000ff"/>
<circle cx="539.60" cy="39.86" r="1.05" fill="#2a8f2a"/>
<circle cx="555.33" cy="75.53" r="1.35" fill="#0000ff"/>
<circle cx="555.33" cy="80.48" r="1.05" fill="#2a8f2a"/>
<circle cx="571.06" cy="86.06" r="1.35" fill="#0000ff"/>
<circle cx="571.06" cy="86.06" r="1.05" fill="#2a8f2a"/>
<circle cx="586.79" cy="85.90" r="1.35" fill="#0000ff"/>
<circle cx="586.79" cy="78.16" r="1.05" fill="#2a8f2a"/>
<circle cx="602.52" cy="52.07" r="1.35" fill="#0000ff"/>
<circle cx="602.52" cy="52.63" r="1.05" fill="#2a8f2a"/>
<circle cx="618.25" cy="44.09" r="1.35" fill="#0000ff"/>
<circle cx="618.25" cy="35.31" r="1.05" fill="#2a8f2a"/>
<circle cx="633.98" cy="68.83" r="1.35" fill="#0000ff"/>
<circle cx="633.98" cy="73.69" r="1.05" fill="#2a8f2a"/>
<circle cx="649.71" cy="93.80" r="1.35" fill="#0000ff"/>
<circle cx="649.71" cy="81.91" r="1.05" fill="#2a8f2a"/>
</g>
<rect x="534.5" y="31.8" width="120.9" height="87.7" fill="none" stroke="#c4c4c4" stroke-width="0.9"/>
<path d="M534.7,119.50h-1.3 M534.7,103.54h-1.3 M534.7,87.58h-1.3 M534.7,71.62h-1.3 M534.7,55.66h-1.3 M534.7,39.70h-1.3 M539.60,119.3v1.3 M555.33,119.3v1.3 M571.06,119.3v1.3 M586.79,119.3v1.3 M602.52,119.3v1.3 M618.25,119.3v1.3 M633.98,119.3v1.3 M649.71,119.3v1.3" stroke="#777" stroke-width="0.7" fill="none"/>
<g font-family="Liberation Sans" font-size="8.4" fill="#000" stroke="#000" stroke-width="0.2">
<text x="532.2" y="122.45" text-anchor="end" textLength="11.2" lengthAdjust="spacingAndGlyphs">0.0</text>
<text x="532.2" y="106.49" text-anchor="end" textLength="11.2" lengthAdjust="spacingAndGlyphs">0.2</text>
<text x="532.2" y="90.53" text-anchor="end" textLength="11.2" lengthAdjust="spacingAndGlyphs">0.4</text>
<text x="532.2" y="74.57" text-anchor="end" textLength="11.2" lengthAdjust="spacingAndGlyphs">0.6</text>
<text x="532.2" y="58.61" text-anchor="end" textLength="11.2" lengthAdjust="spacingAndGlyphs">0.8</text>
<text x="532.2" y="42.65" text-anchor="end" textLength="11.2" lengthAdjust="spacingAndGlyphs">1.0</text>
<text x="539.60" y="127.8" text-anchor="middle">0</text>
<text x="555.33" y="127.8" text-anchor="middle">1</text>
<text x="571.06" y="127.8" text-anchor="middle">2</text>
<text x="586.79" y="127.8" text-anchor="middle">3</text>
<text x="602.52" y="127.8" text-anchor="middle">4</text>
<text x="618.25" y="127.8" text-anchor="middle">5</text>
<text x="633.98" y="127.8" text-anchor="middle">6</text>
<text x="649.71" y="127.8" text-anchor="middle">7</text>
</g>
<text x="535.5" y="29.1" font-family="Liberation Serif" font-size="12.1" fill="#2a2a2a" textLength="28.4" lengthAdjust="spacingAndGlyphs">t=0.4</text>
<g clip-path="url(#cBL)">
<path d="M391.20,141.91V153.85 M407.00,170.01V180.35 M422.80,198.66V201.85 M438.60,195.96V202.32 M454.40,181.39V194.12 M470.20,137.05V151.38 M486.00,170.32V179.40 M501.80,186.48V192.85" stroke="#3aa83a" stroke-opacity="0.7" stroke-width="1.0" fill="none"/>
<path d="M391.20,161.17 L391.72,161.19 L392.24,161.24 L392.76,161.31 L393.28,161.41 L393.80,161.52 L394.32,161.64 L394.84,161.80 L395.36,162.04 L395.88,162.35 L396.40,162.72 L396.92,163.15 L397.44,163.62 L397.96,164.14 L398.48,164.69 L399.00,165.27 L399.52,165.87 L400.04,166.47 L400.56,167.08 L401.08,167.70 L401.60,168.34 L402.13,169.00 L402.65,169.71 L403.17,170.47 L403.69,171.27 L404.21,172.14 L404.73,173.08 L405.25,174.10 L405.77,175.20 L406.29,176.40 L406.81,177.70 L407.33,179.32 L407.85,181.79 L408.37,184.59 L408.89,187.13 L409.41,188.80 L409.93,189.91 L410.45,190.77 L410.97,191.10 L411.49,191.03 L412.01,190.87 L412.53,190.69 L413.05,190.56 L413.57,190.58 L414.09,190.84 L414.61,191.30 L415.13,191.89 L415.65,192.53 L416.17,193.16 L416.69,193.71 L417.21,194.33 L417.73,195.02 L418.25,195.77 L418.77,196.55 L419.29,197.32 L419.81,198.07 L420.33,198.77 L420.85,199.39 L421.37,199.90 L421.89,200.29 L422.41,200.52 L422.93,200.57 L423.46,200.53 L423.98,200.44 L424.50,200.32 L425.02,200.18 L425.54,200.04 L426.06,199.89 L426.58,199.77 L427.10,199.68 L427.62,199.62 L428.14,199.64 L428.66,199.80 L429.18,200.11 L429.70,200.55 L430.22,201.12 L430.74,201.79 L431.26,202.56 L431.78,203.42 L432.30,204.36 L432.82,205.36 L433.34,206.41 L433.86,207.50 L434.39,206.63 L434.91,205.86 L435.44,205.20 L435.97,204.64 L436.49,204.18 L437.02,203.82 L437.55,203.56 L438.07,203.41 L438.60,203.36 L439.13,203.41 L439.65,203.56 L440.18,203.82 L440.71,204.18 L441.23,204.64 L441.76,205.20 L442.29,205.86 L442.81,206.63 L443.34,207.50 L443.86,206.07 L444.38,204.66 L444.91,203.26 L445.43,201.88 L445.95,200.51 L446.47,199.15 L446.99,197.81 L447.52,196.49 L448.04,195.19 L448.56,193.90 L449.08,192.64 L449.60,191.41 L450.13,190.18 L450.65,188.97 L451.17,187.77 L451.69,186.58 L452.21,185.38 L452.74,184.18 L453.26,182.97 L453.78,181.75 L454.30,180.51 L454.82,179.22 L455.35,177.83 L455.87,176.36 L456.39,174.83 L456.91,173.27 L457.43,171.70 L457.95,170.15 L458.48,168.63 L459.00,167.17 L459.52,165.80 L460.04,164.53 L460.56,163.39 L461.09,162.41 L461.61,161.61 L462.13,161.00 L462.65,160.57 L463.17,160.16 L463.70,159.77 L464.22,159.40 L464.74,159.04 L465.26,158.71 L465.78,158.40 L466.31,158.11 L466.83,157.86 L467.35,157.63 L467.87,157.44 L468.39,157.28 L468.92,157.16 L469.44,157.08 L469.96,157.04 L470.48,157.05 L471.00,157.15 L471.53,157.35 L472.05,157.62 L472.57,157.98 L473.09,158.39 L473.61,158.87 L474.14,159.39 L474.66,159.95 L475.18,160.55 L475.70,161.16 L476.22,161.79 L476.75,162.43 L477.27,163.06 L477.79,163.68 L478.31,164.29 L478.83,165.03 L479.36,165.91 L479.88,166.89 L480.40,167.95 L480.92,169.06 L481.44,170.19 L481.97,171.31 L482.49,172.40 L483.01,173.43 L483.53,174.36 L484.05,175.18 L484.58,175.85 L485.10,176.34 L485.62,176.63 L486.14,176.68 L486.66,176.39 L487.19,175.85 L487.71,175.25 L488.23,174.73 L488.75,174.47 L489.27,174.57 L489.79,174.94 L490.32,175.51 L490.84,176.22 L491.36,177.00 L491.88,177.77 L492.40,178.47 L492.93,179.15 L493.45,179.84 L493.97,180.55 L494.49,181.27 L495.01,182.01 L495.54,182.76 L496.06,183.54 L496.58,184.33 L497.10,185.14 L497.62,185.96 L498.15,186.81 L498.67,187.67 L499.19,188.55 L499.71,189.45 L500.23,190.37 L500.76,191.31 L501.28,192.27 L501.80,193.25" stroke="#0000ff" stroke-width="0.75" fill="none" stroke-linejoin="round"/>
<path d="M391.20,147.88 L407.00,175.18 L422.80,200.25 L438.60,199.14 L454.40,187.76 L470.20,144.22 L486.00,174.86 L501.80,189.67" stroke="#38a038" stroke-width="0.75" stroke-dasharray="2.6,0.8" fill="none"/>
<circle cx="391.20" cy="161.17" r="1.35" fill="#0000ff"/>
<circle cx="391.20" cy="147.88" r="1.05" fill="#2a8f2a"/>
<circle cx="407.00" cy="178.20" r="1.35" fill="#0000ff"/>
<circle cx="407.00" cy="175.18" r="1.05" fill="#2a8f2a"/>
<circle cx="422.80" cy="200.57" r="1.35" fill="#0000ff"/>
<circle cx="422.80" cy="200.25" r="1.05" fill="#2a8f2a"/>
<circle cx="438.60" cy="203.36" r="1.35" fill="#0000ff"/>
<circle cx="438.60" cy="199.14" r="1.05" fill="#2a8f2a"/>
<circle cx="454.40" cy="180.27" r="1.35" fill="#0000ff"/>
<circle cx="454.40" cy="187.76" r="1.05" fill="#2a8f2a"/>
<circle cx="470.20" cy="157.03" r="1.35" fill="#0000ff"/>
<circle cx="470.20" cy="144.22" r="1.05" fill="#2a8f2a"/>
<circle cx="486.00" cy="176.69" r="1.35" fill="#0000ff"/>
<circle cx="486.00" cy="174.86" r="1.05" fill="#2a8f2a"/>
<circle cx="501.80" cy="193.25" r="1.35" fill="#0000ff"/>
<circle cx="501.80" cy="189.67" r="1.05" fill="#2a8f2a"/>
</g>
<rect x="385.6" y="143.4" width="122.2" height="87.8" fill="none" stroke="#c4c4c4" stroke-width="0.9"/>
<path d="M385.8,230.90h-1.3 M385.8,214.98h-1.3 M385.8,199.06h-1.3 M385.8,183.14h-1.3 M385.8,167.22h-1.3 M385.8,151.30h-1.3 M391.20,231.0v1.3 M407.00,231.0v1.3 M422.80,231.0v1.3 M438.60,231.0v1.3 M454.40,231.0v1.3 M470.20,231.0v1.3 M486.00,231.0v1.3 M501.80,231.0v1.3" stroke="#777" stroke-width="0.7" fill="none"/>
<g font-family="Liberation Sans" font-size="8.4" fill="#000" stroke="#000" stroke-width="0.2">
<text x="383.3" y="233.85" text-anchor="end" textLength="11.2" lengthAdjust="spacingAndGlyphs">0.0</text>
<text x="383.3" y="217.93" text-anchor="end" textLength="11.2" lengthAdjust="spacingAndGlyphs">0.2</text>
<text x="383.3" y="202.01" text-anchor="end" textLength="11.2" lengthAdjust="spacingAndGlyphs">0.4</text>
<text x="383.3" y="186.09" text-anchor="end" textLength="11.2" lengthAdjust="spacingAndGlyphs">0.6</text>
<text x="383.3" y="170.17" text-anchor="end" textLength="11.2" lengthAdjust="spacingAndGlyphs">0.8</text>
<text x="383.3" y="154.25" text-anchor="end" textLength="11.2" lengthAdjust="spacingAndGlyphs">1.0</text>
<text x="391.20" y="239.5" text-anchor="middle">0</text>
<text x="407.00" y="239.5" text-anchor="middle">1</text>
<text x="422.80" y="239.5" text-anchor="middle">2</text>
<text x="438.60" y="239.5" text-anchor="middle">3</text>
<text x="454.40" y="239.5" text-anchor="middle">4</text>
<text x="470.20" y="239.5" text-anchor="middle">5</text>
<text x="486.00" y="239.5" text-anchor="middle">6</text>
<text x="501.80" y="239.5" text-anchor="middle">7</text>
</g>
<text x="386.6" y="140.7" font-family="Liberation Serif" font-size="12.1" fill="#2a2a2a" textLength="28.4" lengthAdjust="spacingAndGlyphs">t=0.2</text>
<g clip-path="url(#cBR)">
<path d="M539.50,147.80V156.39 M555.23,151.70V169.53 M570.96,198.50V200.73 M586.69,198.10V203.04 M602.42,189.27V196.59 M618.15,149.31V154.88 M633.88,154.01V181.23 M649.61,200.49V207.82" stroke="#3aa83a" stroke-opacity="0.7" stroke-width="1.0" fill="none"/>
<path d="M539.50,158.07 L540.02,157.80 L540.54,157.58 L541.07,157.41 L541.59,157.28 L542.11,157.18 L542.63,157.11 L543.15,157.07 L543.68,157.05 L544.20,157.03 L544.72,157.03 L545.24,157.04 L545.76,157.17 L546.29,157.39 L546.81,157.71 L547.33,158.09 L547.85,158.52 L548.37,158.98 L548.90,159.44 L549.42,159.90 L549.94,160.32 L550.46,160.69 L550.99,161.02 L551.51,161.33 L552.03,161.63 L552.55,161.93 L553.07,162.24 L553.60,162.58 L554.12,162.94 L554.64,163.35 L555.16,163.81 L555.68,164.36 L556.21,165.01 L556.73,165.76 L557.25,166.60 L557.77,167.52 L558.29,168.49 L558.82,169.52 L559.34,170.58 L559.86,171.67 L560.38,172.78 L560.90,173.89 L561.43,174.98 L561.95,176.08 L562.47,177.20 L562.99,178.37 L563.51,179.56 L564.04,180.80 L564.56,182.07 L565.08,183.38 L565.60,184.73 L566.12,186.11 L566.65,187.53 L567.17,189.02 L567.69,190.65 L568.21,192.39 L568.74,194.19 L569.26,196.00 L569.78,197.78 L570.30,199.49 L570.82,201.06 L571.35,202.51 L571.87,203.91 L572.39,205.27 L572.91,206.59 L573.43,207.87 L573.96,209.09 L574.48,210.26 L575.00,211.38 L575.52,212.43 L576.04,211.45 L576.56,210.54 L577.07,209.69 L577.59,208.91 L578.11,208.19 L578.63,207.53 L579.14,206.93 L579.66,206.39 L580.18,205.90 L580.70,205.46 L581.21,205.07 L581.73,204.73 L582.25,204.43 L582.77,204.17 L583.29,203.95 L583.80,203.77 L584.32,203.63 L584.84,203.52 L585.36,203.44 L585.87,203.39 L586.39,203.36 L586.91,203.37 L587.43,203.49 L587.94,203.71 L588.46,204.05 L588.98,204.47 L589.50,204.96 L590.01,205.53 L590.53,206.15 L591.05,206.81 L591.57,207.50 L592.09,206.16 L592.61,204.82 L593.14,203.47 L593.66,202.11 L594.18,200.75 L594.70,199.38 L595.23,198.01 L595.75,196.62 L596.27,195.23 L596.80,193.80 L597.32,192.36 L597.84,190.90 L598.36,189.42 L598.89,187.95 L599.41,186.48 L599.93,185.02 L600.46,183.58 L600.98,182.16 L601.50,180.78 L602.02,179.43 L602.55,178.13 L603.07,176.81 L603.59,175.46 L604.12,174.10 L604.64,172.73 L605.16,171.36 L605.69,170.02 L606.21,168.71 L606.73,167.43 L607.25,166.22 L607.78,165.07 L608.30,164.00 L608.82,163.01 L609.35,162.14 L609.87,161.37 L610.39,160.73 L610.91,160.13 L611.44,159.54 L611.96,158.96 L612.48,158.39 L613.01,157.85 L613.53,157.33 L614.05,156.85 L614.57,156.40 L615.10,156.00 L615.62,155.65 L616.14,155.35 L616.67,155.11 L617.19,154.93 L617.71,154.83 L618.24,154.80 L618.76,154.93 L619.28,155.22 L619.80,155.65 L620.33,156.19 L620.85,156.83 L621.37,157.53 L621.90,158.27 L622.42,159.03 L622.94,159.78 L623.46,160.49 L623.99,161.15 L624.51,161.72 L625.03,162.26 L625.56,162.80 L626.08,163.34 L626.60,163.88 L627.12,164.41 L627.65,164.92 L628.17,165.42 L628.69,165.89 L629.22,166.33 L629.74,166.74 L630.26,167.10 L630.79,167.41 L631.31,167.69 L631.83,167.97 L632.35,168.26 L632.88,168.58 L633.40,168.96 L633.92,169.41 L634.45,169.98 L634.97,170.69 L635.49,171.52 L636.01,172.44 L636.54,173.43 L637.06,174.47 L637.58,175.53 L638.11,176.59 L638.63,177.63 L639.15,178.68 L639.67,179.78 L640.20,180.93 L640.72,182.10 L641.24,183.30 L641.77,184.52 L642.29,185.75 L642.81,186.97 L643.34,188.19 L643.86,189.41 L644.38,190.64 L644.90,191.87 L645.43,193.12 L645.95,194.37 L646.47,195.63 L647.00,196.89 L647.52,198.17 L648.04,199.45 L648.56,200.75 L649.09,202.05 L649.61,203.36" stroke="#0000ff" stroke-width="0.75" fill="none" stroke-linejoin="round"/>
<path d="M539.50,152.10 L555.23,160.61 L570.96,199.62 L586.69,200.57 L602.42,192.93 L618.15,152.10 L633.88,167.62 L649.61,204.15" stroke="#38a038" stroke-width="0.75" stroke-dasharray="2.6,0.8" fill="none"/>
<circle cx="539.50" cy="158.07" r="1.35" fill="#0000ff"/>
<circle cx="539.50" cy="152.10" r="1.05" fill="#2a8f2a"/>
<circle cx="555.23" cy="163.88" r="1.35" fill="#0000ff"/>
<circle cx="555.23" cy="160.61" r="1.05" fill="#2a8f2a"/>
<circle cx="570.96" cy="201.45" r="1.35" fill="#0000ff"/>
<circle cx="570.96" cy="199.62" r="1.05" fill="#2a8f2a"/>
<circle cx="586.69" cy="203.36" r="1.35" fill="#0000ff"/>
<circle cx="586.69" cy="200.57" r="1.05" fill="#2a8f2a"/>
<circle cx="602.42" cy="178.44" r="1.35" fill="#0000ff"/>
<circle cx="602.42" cy="192.93" r="1.05" fill="#2a8f2a"/>
<circle cx="618.15" cy="154.80" r="1.35" fill="#0000ff"/>
<circle cx="618.15" cy="152.10" r="1.05" fill="#2a8f2a"/>
<circle cx="633.88" cy="169.37" r="1.35" fill="#0000ff"/>
<circle cx="633.88" cy="167.62" r="1.05" fill="#2a8f2a"/>
<circle cx="649.61" cy="203.36" r="1.35" fill="#0000ff"/>
<circle cx="649.61" cy="204.15" r="1.05" fill="#2a8f2a"/>
</g>
<rect x="534.4" y="143.4" width="120.8" height="87.6" fill="none" stroke="#c4c4c4" stroke-width="0.9"/>
<path d="M534.6,230.90h-1.3 M534.6,214.98h-1.3 M534.6,199.06h-1.3 M534.6,183.14h-1.3 M534.6,167.22h-1.3 M534.6,151.30h-1.3 M539.50,230.8v1.3 M555.23,230.8v1.3 M570.96,230.8v1.3 M586.69,230.8v1.3 M602.42,230.8v1.3 M618.15,230.8v1.3 M633.88,230.8v1.3 M649.61,230.8v1.3" stroke="#777" stroke-width="0.7" fill="none"/>
<g font-family="Liberation Sans" font-size="8.4" fill="#000" stroke="#000" stroke-width="0.2">
<text x="532.1" y="233.85" text-anchor="end" textLength="11.2" lengthAdjust="spacingAndGlyphs">0.0</text>
<text x="532.1" y="217.93" text-anchor="end" textLength="11.2" lengthAdjust="spacingAndGlyphs">0.2</text>
<text x="532.1" y="202.01" text-anchor="end" textLength="11.2" lengthAdjust="spacingAndGlyphs">0.4</text>
<text x="532.1" y="186.09" text-anchor="end" textLength="11.2" lengthAdjust="spacingAndGlyphs">0.6</text>
<text x="532.1" y="170.17" text-anchor="end" textLength="11.2" lengthAdjust="spacingAndGlyphs">0.8</text>
<text x="532.1" y="154.25" text-anchor="end" textLength="11.2" lengthAdjust="spacingAndGlyphs">1.0</text>
<text x="539.50" y="239.3" text-anchor="middle">0</text>
<text x="555.23" y="239.3" text-anchor="middle">1</text>
<text x="570.96" y="239.3" text-anchor="middle">2</text>
<text x="586.69" y="239.3" text-anchor="middle">3</text>
<text x="602.42" y="239.3" text-anchor="middle">4</text>
<text x="618.15" y="239.3" text-anchor="middle">5</text>
<text x="633.88" y="239.3" text-anchor="middle">6</text>
<text x="649.61" y="239.3" text-anchor="middle">7</text>
</g>
<text x="535.4" y="140.7" font-family="Liberation Serif" font-size="12.1" fill="#2a2a2a" textLength="28.4" lengthAdjust="spacingAndGlyphs">t=0.6</text>
<text transform="translate(357.3,100.1) rotate(-90)" font-family="Liberation Sans" font-size="9.3" fill="#000" stroke="#000" stroke-width="0.2" textLength="40.5" lengthAdjust="spacingAndGlyphs">Rescaled</text>
<text transform="translate(366.6,116.1) rotate(-90)" font-family="Liberation Sans" font-size="9.3" fill="#000" stroke="#000" stroke-width="0.2" textLength="77.9" lengthAdjust="spacingAndGlyphs">Measured Overlap</text>
<text transform="translate(357.3,206.7) rotate(-90)" font-family="Liberation Sans" font-size="9.3" fill="#000" stroke="#000" stroke-width="0.2" textLength="40.5" lengthAdjust="spacingAndGlyphs">Rescaled</text>
<text transform="translate(366.6,222.7) rotate(-90)" font-family="Liberation Sans" font-size="9.3" fill="#000" stroke="#000" stroke-width="0.2" textLength="77.9" lengthAdjust="spacingAndGlyphs">Measured Overlap</text>
<text x="445.65" y="250.1" font-family="Liberation Sans" font-size="10.1" text-anchor="middle" fill="#000" stroke="#000" stroke-width="0.2" textLength="73.8" lengthAdjust="spacingAndGlyphs">Parameter Step</text>
<text x="600.60" y="250.1" font-family="Liberation Sans" font-size="10.1" text-anchor="middle" fill="#000" stroke="#000" stroke-width="0.2" textLength="73.8" lengthAdjust="spacingAndGlyphs">Parameter Step</text>
<path d="M576.8,4.0H597.9" stroke="#0000ff" stroke-opacity="0.7" stroke-width="1.2"/>
<path d="M576.8,18.3H597" stroke="#2a9a2a" stroke-width="1.2" stroke-dasharray="3.6,2.3"/>
<path d="M587,13.9V23.8" stroke="#2a8f2a" stroke-width="1.2"/>
<circle cx="587" cy="18.3" r="1.8" fill="#1e7e1e"/>
<g font-family="Liberation Sans" font-size="10.5" fill="#000" stroke="#000" stroke-width="0.15"><text x="605.3" y="7.6" textLength="59.0" lengthAdjust="spacingAndGlyphs">Exact Value</text><text x="605.3" y="22.8" textLength="84.0" lengthAdjust="spacingAndGlyphs">Measured Value</text></g>
</svg>
</body></html>
